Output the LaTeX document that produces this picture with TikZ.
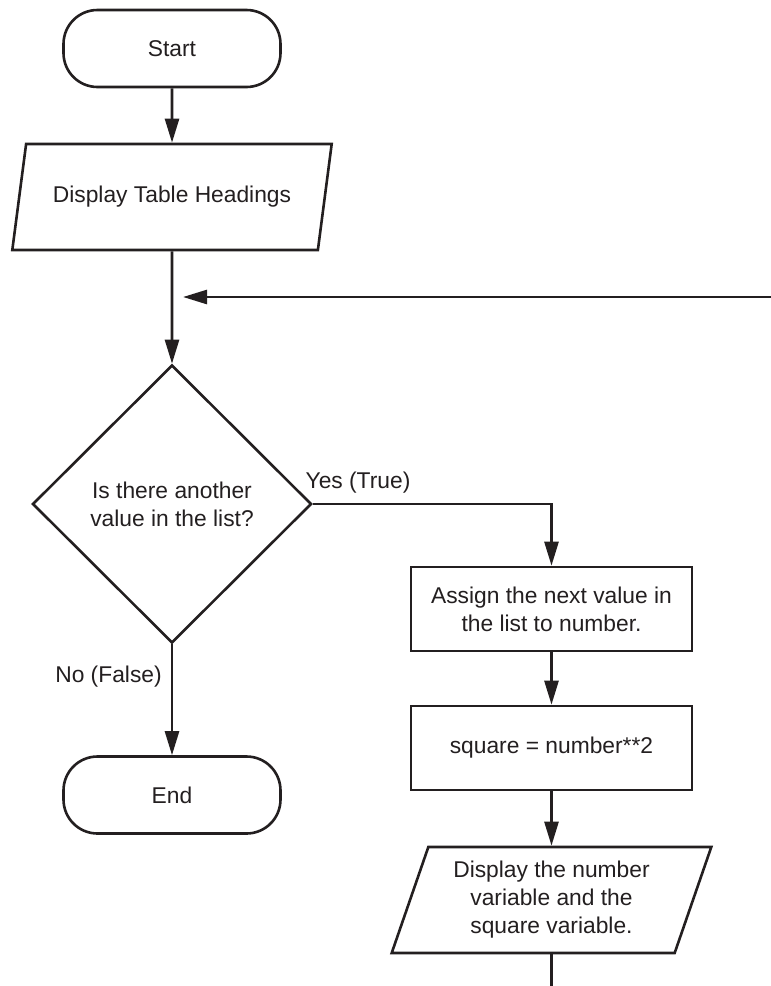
\documentclass[tikz,border=0pt]{standalone}
\usepackage{fontspec}
\setmainfont{Liberation Sans}
\usetikzlibrary{shapes.geometric,arrows.meta}
\definecolor{ink}{HTML}{231F20}
\begin{document}
\begin{tikzpicture}[x=.5pt,y=-.5pt,line width=1.3pt,color=ink,
  font=\fontsize{11.4}{14}\selectfont,
  term/.style={draw,rounded corners=17pt,minimum width=108.5pt,minimum height=38.5pt},
  io/.style={draw,trapezium,trapezium left angle=71,trapezium right angle=109,
    trapezium stretches,minimum width=160pt,minimum height=53pt,align=center},
  proc/.style={draw,minimum width=140.5pt,minimum height=42pt,align=center},
  decide/.style={draw,diamond,minimum width=139.5pt,minimum height=139pt,inner sep=0pt,align=center},
  flow/.style={-{Triangle[length=12pt,width=7pt]}}]
\useasboundingbox (0,0) rectangle (771,986);
\node[term] (start) at (172,48.5) {Start};
\node[io] (heads) at (172,197) {Display Table Headings};
\node[decide] (more) at (172,504) {Is there another\\value in the list?};
\node[term] (end) at (172,795) {End};
\node[proc] (assign) at (551.5,609) {Assign the next value in\\the list to number.};
\node[proc] (sq) at (551.5,748) {square = number**2};
\node[io] (show) at (551.5,900) {Display the number\\variable and the\\square variable.};
\node (yes) at (358,483) {Yes (True)};
\node (no) at (108.5,677) {No (False)};
\coordinate (join) at (172,297);
\coordinate (back) at (771,297);
\coordinate (tail) at (551.5,986);
\draw[flow] (start) -- (heads);
\draw[flow] (heads) -- (more);
\draw[flow] (back) -- ([xshift=5.5pt]join);
\draw[flow] (more.east) -| (assign);
\draw[flow] (more) -- (end);
\draw[flow] (assign) -- (sq);
\draw[flow] (sq) -- (show);
\draw (show) -- (tail);
\end{tikzpicture}
\end{document}
